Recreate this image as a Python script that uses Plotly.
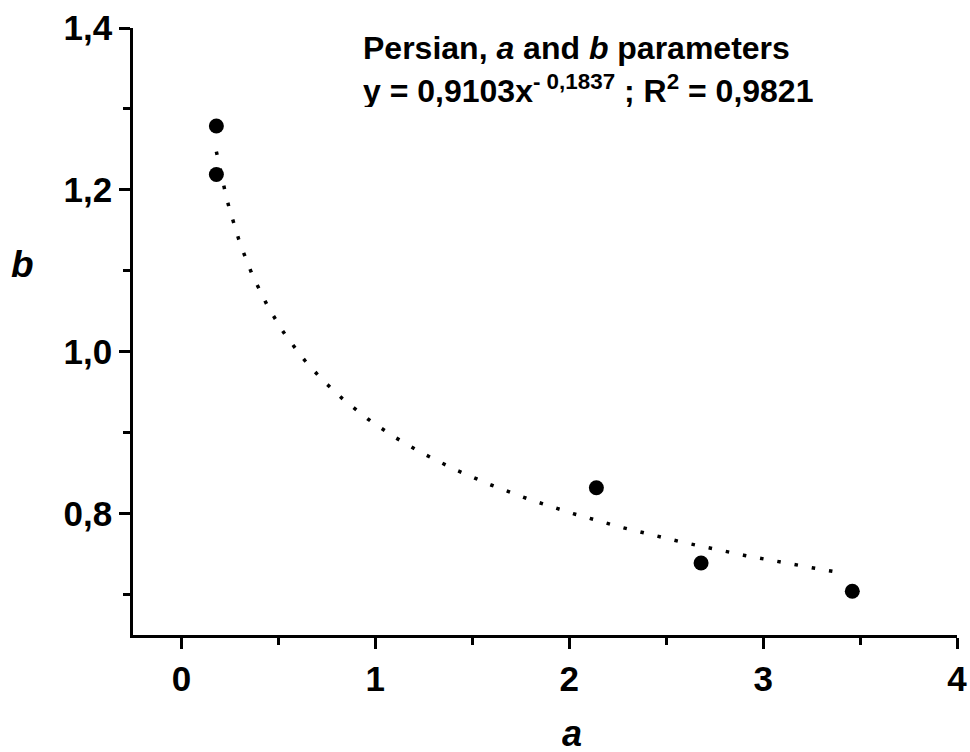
import numpy as np
import plotly.graph_objects as go

# Measured parameter pairs (a, b)
a_vals = [0.18, 0.18, 2.14, 2.68, 3.46]
b_vals = [1.279, 1.219, 0.832, 0.739, 0.704]

# Power-law fit b = k * a^p
fit_k = 0.9103
fit_p = -0.1837
fit_r2 = 0.9821
fit_start, fit_end = 0.18, 3.42

x_ticks = [0, 1, 2, 3, 4]
x_ticktext = ["0", "1", "2", "3", "4"]
y_ticks = [0.8, 1.0, 1.2, 1.4]
y_ticktext = ["0,8", "1,0", "1,2", "1,4"]

FONT = "Liberation Sans, Arial, sans-serif"

fit_x = np.linspace(fit_start, fit_end, 200)
fit_y = fit_k * fit_x ** fit_p

fig = go.Figure()
fig.add_trace(go.Scatter(
    x=fit_x, y=fit_y, mode="lines",
    line=dict(color="black", width=3.5, dash="3.5px,14px"),
    hoverinfo="skip", showlegend=False,
))
fig.add_trace(go.Scatter(
    x=a_vals, y=b_vals, mode="markers",
    marker=dict(color="black", size=15, line=dict(width=0)),
    showlegend=False,
))

L, R, T, B = 133, 13, 28, 117
W, H = 970, 752
pw, ph = W - L - R, H - T - B


def px_x(px):
    return (px - L) / pw


def px_y(py):
    return (H - B - py) / ph


axis_common = dict(
    showline=True, linecolor="black", linewidth=2.5,
    ticks="outside", ticklen=11, tickwidth=2.5, tickcolor="black",
    showgrid=False, zeroline=False, mirror=False, automargin=False,
    tickfont=dict(family=FONT, size=35, color="black", weight="bold"),
)

fig.update_xaxes(
    range=[-0.25, 4.0], tickvals=x_ticks, ticktext=x_ticktext,
    minor=dict(dtick=0.5, tick0=0, ticks="outside", ticklen=7,
               tickwidth=2.5, tickcolor="black", showgrid=False),
    **axis_common,
)
fig.update_yaxes(
    range=[0.65, 1.4], tickvals=y_ticks, ticktext=y_ticktext,
    minor=dict(dtick=0.1, tick0=0, ticks="outside", ticklen=7,
               tickwidth=2.5, tickcolor="black", showgrid=False),
    **axis_common,
)

title_font = dict(family=FONT, size=32, color="black", weight="bold")
fig.add_annotation(
    xref="paper", yref="paper", x=px_x(361), y=px_y(48),
    xanchor="left", yanchor="middle", showarrow=False,
    height=36, valign="middle",
    text="Persian, <i>a</i> and <i>b</i> parameters",
    font=title_font,
)
fig.add_annotation(
    xref="paper", yref="paper", x=px_x(361), y=px_y(89),
    xanchor="left", yanchor="middle", showarrow=False,
    height=36, valign="middle",
    text=(f"y = {fit_k:.4f}x<sup>- {abs(fit_p):.4f}</sup> ; "
          f"R<sup>2</sup> = {fit_r2:.4f}").replace(".", ","),
    font=title_font,
)
fig.add_annotation(
    xref="paper", yref="paper", x=px_x(22), y=px_y(264),
    xanchor="center", yanchor="middle", showarrow=False,
    text="<b><i>b</i></b>",
    font=dict(family=FONT, size=37, color="black"),
)
fig.add_annotation(
    xref="paper", yref="paper", x=px_x(572), y=px_y(733),
    xanchor="center", yanchor="middle", showarrow=False,
    height=34, valign="middle",
    text="<b><i>a</i></b>",
    font=dict(family=FONT, size=36, color="black"),
)

fig.update_layout(
    width=W, height=H,
    margin=dict(l=L, r=R, t=T, b=B),
    paper_bgcolor="white", plot_bgcolor="white",
    showlegend=False,
)

fig.write_html("out.html")
